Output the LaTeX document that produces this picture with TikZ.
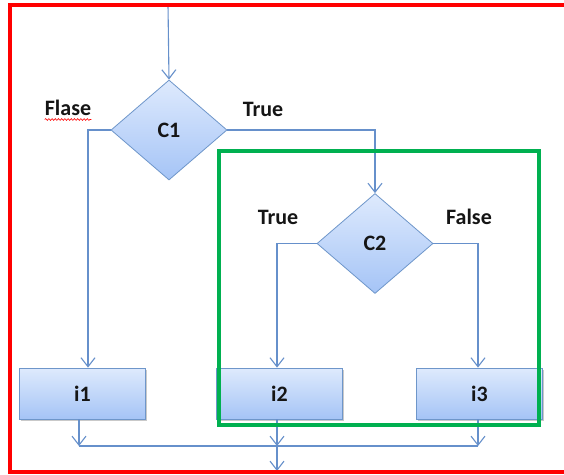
\documentclass[tikz,border=0pt]{standalone}
\usepackage{fontspec}
\setmainfont{Carlito}
\usetikzlibrary{shapes.geometric,arrows.meta,shadows,decorations.pathmorphing}
\definecolor{lineblue}{HTML}{6690CB}
\definecolor{boxtop}{HTML}{DEEAFD}
\definecolor{boxbot}{HTML}{A5C4F6}
\definecolor{boxline}{HTML}{6E96CA}
\definecolor{offgreen}{HTML}{00B050}
\definecolor{txt}{HTML}{151515}
\tikzset{
  conn/.style={draw=lineblue, line width=1.1pt},
  arr/.style={conn, -{Straight Barb[length=9pt,width=14pt,line width=1.1pt]}},
  decision/.style={diamond, draw=boxline, line width=0.8pt, top color=boxtop, bottom color=boxbot,
    minimum width=116pt, minimum height=100pt, inner sep=0pt, aspect=1.16,
    font=\fontsize{22}{26}\selectfont\bfseries, text=txt},
  instr/.style={rectangle, draw=boxline, line width=0.8pt, top color=boxtop, bottom color=boxbot,
    minimum width=126pt, minimum height=51pt, inner sep=0pt,
    drop shadow={shadow xshift=1.5pt, shadow yshift=-2pt, opacity=0.35, fill=black!60},
    font=\fontsize{22}{26}\selectfont\bfseries, text=txt},
  lbl/.style={font=\fontsize{22}{26}\selectfont\bfseries, text=txt, inner sep=0pt},
  redframe/.style={draw=red, line width=3.5pt},
  greenframe/.style={draw=offgreen, line width=3.2pt},
}
\begin{document}
\begin{tikzpicture}[x=1pt,y=-1pt]
\useasboundingbox (0,0) rectangle (564,474);
\fill[white] (0,0) rectangle (564,474);

% nodes
\node[decision] (c1) at (169,130) {C1};
\node[decision] (c2) at (375,243.5) {C2};
\node[instr] (i1) at (82.5,393.5) {i1};
\node[instr] (i2) at (279.5,393.5) {i2};
\node[instr] (i3) at (479.5,393.5) {i3};

% labels
\node[lbl] (lflase) at (68,108) {Flase};
\node[lbl] (ltrue1) at (263,109) {True};
\node[lbl] (ltrue2) at (278,217) {True};
\node[lbl] (lfalse) at (469,217) {False};
\draw[red, line width=0.6pt, decorate, decoration={snake, amplitude=0.9pt, segment length=3.2pt}]
  ([yshift=-3.5pt]lflase.south west) -- ([yshift=-3.5pt]lflase.south east);

% junction coordinates
\coordinate (start) at (168,5);
\coordinate (j1) at ([xshift=-3.5pt]i1.south |- 0,446);
\coordinate (j2) at ([xshift=-2.5pt]i2.south |- 0,446);
\coordinate (j3) at ([xshift=-1.5pt]i3.south |- 0,446);
\coordinate (finish) at (j2 |- 0,471);

% connectors
\draw[arr] (start) -- (c1.north);
\draw[arr] (c1.west) -| ([xshift=5.5pt]i1.north);
\draw[arr] (c1.east) -| (c2.north);
\draw[arr] (c2.west) -| ([xshift=-2.5pt]i2.north);
\draw[arr] (c2.east) -| ([xshift=-1.5pt]i3.north);
\draw[arr] ([xshift=-3.5pt]i1.south) -- (j1);
\draw[arr] ([xshift=-2.5pt]i2.south) -- (j2);
\draw[arr] ([xshift=-1.5pt]i3.south) -- (j3);
\draw[conn] (j1) -- (j3);
\draw[arr] (j2) -- (finish);

% frames
\draw[greenframe] (219,151) rectangle (539,425);
\draw[redframe] (600,5) -- (10,5) -- (10,472) -- (600,472);
\end{tikzpicture}
\end{document}
